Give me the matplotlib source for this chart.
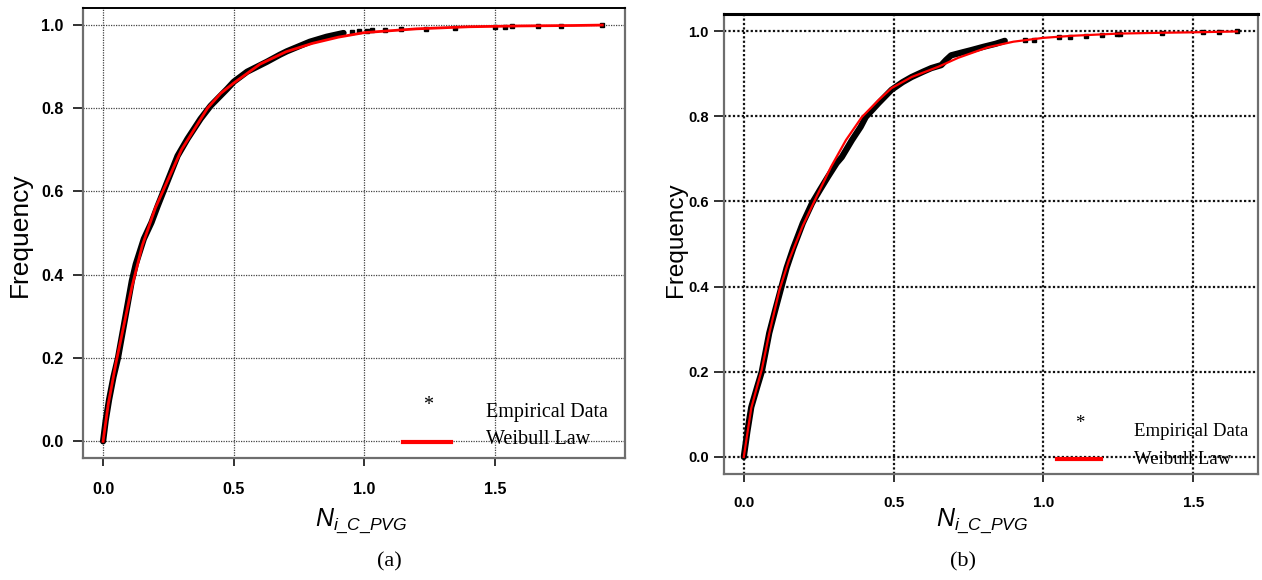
import matplotlib
matplotlib.use("Agg")
import matplotlib.pyplot as plt

plt.rcParams["mathtext.fontset"] = "custom"
plt.rcParams["mathtext.it"] = "Liberation Sans:italic"
plt.rcParams["mathtext.rm"] = "Liberation Sans"

# ---- panel (a) ----
a_emp_x = [0, 0.010, 0.023, 0.040, 0.057, 0.080, 0.100, 0.110, 0.125, 0.156, 0.185, 0.209,
           0.247, 0.285, 0.323, 0.373, 0.411, 0.475, 0.500, 0.551, 0.627, 0.677, 0.703,
           0.791, 0.855, 0.920]
a_emp_y = [0, 0.05, 0.10, 0.155, 0.200, 0.280, 0.350, 0.385, 0.425, 0.486, 0.525, 0.565,
           0.625, 0.685, 0.726, 0.774, 0.805, 0.846, 0.863, 0.887, 0.911, 0.928, 0.936,
           0.959, 0.971, 0.980]
a_tail_x = [0.951, 0.981, 1.008, 1.027, 1.080, 1.141, 1.236, 1.346, 1.498, 1.536, 1.563,
            1.665, 1.753, 1.909]
a_tail_y = [0.983, 0.985, 0.986, 0.987, 0.988, 0.989, 0.990, 0.992, 0.994, 0.995, 0.996,
            0.997, 0.998, 1.000]
a_fit_x = [0, 0.02, 0.05, 0.08, 0.11, 0.15, 0.20, 0.25, 0.30, 0.35, 0.40, 0.45, 0.50, 0.60,
           0.70, 0.80, 0.90, 1.00, 1.20, 1.40, 1.60, 1.80, 1.91]
a_fit_y = [0, 0.09, 0.19, 0.28, 0.37, 0.47, 0.56, 0.63, 0.70, 0.75, 0.80, 0.835, 0.86, 0.905,
           0.935, 0.955, 0.970, 0.981, 0.990, 0.995, 0.997, 0.998, 0.999]

# ---- panel (b) ----
b_emp_x = [0, 0.012, 0.025, 0.045, 0.060, 0.085, 0.105, 0.126, 0.143, 0.165, 0.197, 0.228,
           0.255, 0.281, 0.310, 0.327, 0.361, 0.390, 0.407, 0.450, 0.493, 0.530, 0.560,
           0.600, 0.626, 0.659, 0.675, 0.692, 0.730, 0.758, 0.800, 0.840, 0.871]
b_emp_y = [0, 0.06, 0.117, 0.165, 0.200, 0.291, 0.345, 0.400, 0.444, 0.490, 0.549, 0.596,
           0.628, 0.658, 0.690, 0.704, 0.744, 0.775, 0.798, 0.831, 0.862, 0.880, 0.892,
           0.905, 0.913, 0.920, 0.932, 0.943, 0.950, 0.955, 0.963, 0.970, 0.977]
b_tail_x = [0.937, 0.967, 1.053, 1.089, 1.142, 1.195, 1.245, 1.255, 1.397, 1.533, 1.586, 1.646]
b_tail_y = [0.979, 0.980, 0.987, 0.987, 0.988, 0.991, 0.992, 0.992, 0.996, 0.997, 0.998, 1.000]
b_fit_x = [0, 0.025, 0.060, 0.085, 0.119, 0.150, 0.195, 0.242, 0.291, 0.341, 0.394, 0.450,
           0.493, 0.560, 0.649, 0.715, 0.815, 0.900, 1.000, 1.100, 1.250, 1.400, 1.500, 1.646]
b_fit_y = [0, 0.115, 0.205, 0.290, 0.392, 0.460, 0.540, 0.610, 0.681, 0.744, 0.798, 0.838,
           0.866, 0.892, 0.916, 0.937, 0.962, 0.975, 0.984, 0.989, 0.994, 0.996, 0.997, 0.999]

xticks = [0.0, 0.5, 1.0, 1.5]
yticks = [0.0, 0.2, 0.4, 0.6, 0.8, 1.0]
legend_labels = ["Empirical Data", "Weibull Law"]

W, H = 1262, 580
fig = plt.figure(figsize=(W / 100, H / 100), dpi=100)


def px_axes(l, t, r, b):
    return fig.add_axes([l / W, 1 - b / H, (r - l) / W, (b - t) / H])


def panel(ax, emp_x, emp_y, tail_x, tail_y, fit_x, fit_y, xmax, grid_lw, grid_col,
          ylab_size, xlab_size, xpad, ypad, lw_emp, lw_fit, top_lw, leg):
    ax.plot(emp_x, emp_y, color="black", lw=lw_emp, solid_capstyle="round", zorder=3)
    ax.plot(tail_x, tail_y, "s", color="black", ms=2.6, zorder=3)
    ax.plot(fit_x, fit_y, color="red", lw=lw_fit, zorder=4)
    ax.set_xlim(-0.04 * xmax, 1.04 * xmax)
    ax.set_ylim(-0.04, 1.04)
    ax.set_xticks(xticks)
    ax.set_yticks(yticks)
    ax.set_xticklabels(["%.1f" % v for v in xticks], fontsize=xlab_size, fontweight="bold",
                       family="Liberation Sans")
    ax.set_yticklabels(["%.1f" % v for v in yticks], fontsize=ylab_size, fontweight="bold",
                       family="Liberation Sans")
    ax.tick_params(axis="x", direction="out", length=6, width=1.3, pad=xpad, color="#222222")
    ax.tick_params(axis="y", direction="out", length=7, width=1.3, pad=ypad, color="#222222")
    ax.grid(True, linestyle=(0, (1, 1)), lw=grid_lw, color=grid_col)
    for s in ["left", "bottom", "right"]:
        ax.spines[s].set_color("#6e6e6e")
        ax.spines[s].set_linewidth(1.6)
    ax.spines["top"].set_color("black")
    ax.spines["top"].set_linewidth(top_lw)
    # legend
    (sx, sy), (lx0, lx1, ly), (tx, ty1, ty2), fs = leg
    ax.text(sx, sy, "*", transform=ax.transAxes, ha="center", va="center",
            fontsize=fs, family="Liberation Serif", zorder=5)
    ax.plot([lx0, lx1], [ly, ly], transform=ax.transAxes, color="red", lw=3, zorder=5)
    ax.text(tx, ty1, legend_labels[0], transform=ax.transAxes, ha="left", va="center",
            fontsize=fs, family="Liberation Serif", zorder=5)
    ax.text(tx, ty2, legend_labels[1], transform=ax.transAxes, ha="left", va="center",
            fontsize=fs, family="Liberation Serif", zorder=5)


# panel (a): axes box 83..625 x 8..458
ax1 = px_axes(83, 8, 625, 458)
lw_a = 542.0
hw_a = 450.0
leg_a = (((428 - 83) / lw_a, (458 - 405) / hw_a),
         ((403 - 83) / lw_a, (451 - 83) / lw_a, (458 - 442) / hw_a),
         ((486 - 83) / lw_a, (458 - 412) / hw_a, (458 - 440) / hw_a), 14.5)
panel(ax1, a_emp_x, a_emp_y, a_tail_x, a_tail_y, a_fit_x, a_fit_y, 1.92, 0.9, "#444444",
      11.5, 11.5, 11, 7, 4.5, 2.0, 1.4, leg_a)

# panel (b): axes box 724..1258 x 14..474
ax2 = px_axes(724, 14, 1258, 474)
lw_b = 534.0
hw_b = 460.0
leg_b = (((1080 - 724) / lw_b, (474 - 423) / hw_b),
         ((1057 - 724) / lw_b, (1101 - 724) / lw_b, (474 - 459) / hw_b),
         ((1134 - 724) / lw_b, (474 - 431) / hw_b, (474 - 459) / hw_b), 13.5)
panel(ax2, b_emp_x, b_emp_y, b_tail_x, b_tail_y, b_fit_x, b_fit_y, 1.65, 1.6, "#111111",
      10.5, 11, 10, 4, 4.5, 1.6, 2.2, leg_b)

# axis titles and panel captions
fig.text(20 / W, 1 - 235 / H, "Frequency", rotation=90, ha="center", va="center",
         fontsize=19, family="Liberation Sans")
fig.text(676 / W, 1 - 240 / H, "Frequency", rotation=90, ha="center", va="center",
         fontsize=17.5, family="Liberation Sans")
fig.text(361 / W, 1 - 521 / H, r"$N_{i\_C\_PVG}$", ha="center", va="center", fontsize=18)
fig.text(982 / W, 1 - 521 / H, r"$N_{i\_C\_PVG}$", ha="center", va="center", fontsize=18)
fig.text(389 / W, 1 - 562 / H, "(a)", ha="center", va="center", fontsize=16,
         family="Liberation Serif")
fig.text(963 / W, 1 - 562 / H, "(b)", ha="center", va="center", fontsize=16,
         family="Liberation Serif")

fig.savefig("out.png", dpi=100)
